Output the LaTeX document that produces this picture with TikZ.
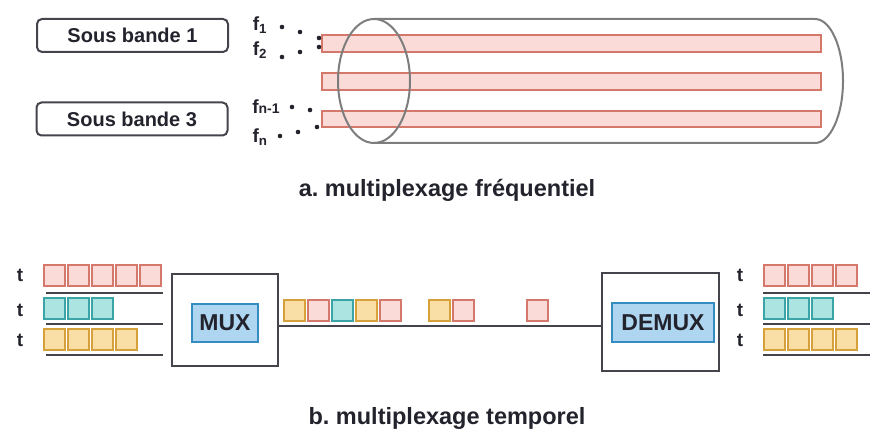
\documentclass[tikz,border=0pt]{standalone}
\usepackage{fontspec}
\setmainfont{Liberation Sans}
\usetikzlibrary{positioning}
\definecolor{bandfill}{RGB}{250,219,216}
\definecolor{banddraw}{RGB}{212,120,108}
\definecolor{cyanfill}{RGB}{172,228,226}
\definecolor{cyandraw}{RGB}{58,164,166}
\definecolor{yelfill}{RGB}{249,222,165}
\definecolor{yeldraw}{RGB}{214,160,58}
\definecolor{muxfill}{RGB}{174,214,241}
\definecolor{muxdraw}{RGB}{52,140,192}
\definecolor{tube}{RGB}{125,125,125}
\definecolor{ink}{RGB}{35,35,45}

\tikzset{
  sousbande/.style={draw=ink!85, line width=2pt, rounded corners=5pt,
    minimum width=191pt, minimum height=33pt, text=ink,
    font=\fontsize{20}{20}\selectfont\bfseries},
  band/.style={draw=banddraw, fill=bandfill, line width=1.8pt},
  redsq/.style={draw=banddraw, fill=bandfill, line width=2pt},
  cyansq/.style={draw=cyandraw, fill=cyanfill, line width=2pt},
  yelsq/.style={draw=yeldraw, fill=yelfill, line width=2pt},
  outerbox/.style={draw=ink!85, line width=2.2pt},
  muxbox/.style={draw=muxdraw, fill=muxfill, line width=1.8pt, text=ink,
    font=\fontsize{23}{23}\selectfont\bfseries},
  lbl/.style={text=ink, font=\fontsize{19}{19}\selectfont\bfseries},
  caption/.style={text=ink, font=\fontsize{23.5}{23.5}\selectfont\bfseries},
  rail/.style={draw=ink!85, line width=2pt},
}
\newcommand{\slot}[3]{\draw[#1] (#2+1,#3+1) rectangle ++(21,21);}
\frenchspacing

\begin{document}
\begin{tikzpicture}[x=1pt, y=-1pt]
  \useasboundingbox (0,0) rectangle (870,430);

  % a. multiplexage frequentiel
  \node[sousbande] (sb1) at (132.5,35.5) {Sous bande 1};
  \node[sousbande] (sb3) at (132,119) {Sous bande 3};

  \draw[band] (322,35) rectangle (821,52);
  \draw[band] (322,73) rectangle (821,90);
  \draw[band] (322,111) rectangle (821,127);

  \draw[tube, line width=2pt] (374,19) -- (815,19)
    arc[start angle=-90, end angle=90, x radius=28, y radius=62] -- (374,143);
  \draw[tube, line width=2pt] (374,81) ellipse[x radius=36, y radius=62];

  \node[lbl] (f1) at (260,25) {f\textsubscript{1}};
  \node[lbl] (f2) at (260,50) {f\textsubscript{2}};
  \node[lbl] (fn1) at (266,107) {f{\fontsize{14}{14}\selectfont n-1}};
  \node[lbl] (fn) at (260,137) {f\textsubscript{n}};

  \foreach \p in {(282,27),(300,32),(319,38),(319,47),(300,52),(282,57),
                  (292,107),(310,110),(317,127),(298,132),(280,136)}
    \fill[ink] \p circle[radius=2.3];

  \node[caption] (capA) at (447,190) {a. multiplexage fréquentiel};

  % b. multiplexage temporel
  \node[outerbox, minimum width=106pt, minimum height=92pt] (mux) at (225,320) {};
  \node[muxbox, minimum width=66pt, minimum height=38pt] (muxin) at (225,323) {MUX};
  \node[outerbox, minimum width=117pt, minimum height=98pt] (demux) at (660.5,322) {};
  \node[muxbox, minimum width=102pt, minimum height=39pt] (demuxin) at (663,322.5) {DEMUX};

  \coordinate (lvl) at (0,326);
  \draw[rail] (mux.east |- lvl) -- (demux.west |- lvl);

  \foreach \y in {275,310,340} {
    \node[lbl] at (20,\y) {t};
    \node[lbl] at (740,\y) {t};
  }

  % entrees
  \foreach \i in {0,...,4} \slot{redsq}{43+24*\i}{264}
  \foreach \i in {0,...,2} \slot{cyansq}{43+24*\i}{297}
  \foreach \i in {0,...,3} \slot{yelsq}{43+24*\i}{328}
  \foreach \y in {293,324,355} \draw[rail] (46,\y) -- (163,\y);

  % trame
  \slot{yelsq}{283}{299}
  \slot{redsq}{307}{299}
  \slot{cyansq}{331}{299}
  \slot{yelsq}{355}{299}
  \slot{redsq}{379}{299}
  \slot{yelsq}{428}{299}
  \slot{redsq}{452}{299}
  \slot{redsq}{526}{299}

  % sorties
  \foreach \i in {0,...,3} \slot{redsq}{763+24*\i}{264}
  \foreach \i in {0,...,2} \slot{cyansq}{763+24*\i}{297}
  \foreach \i in {0,...,3} \slot{yelsq}{763+24*\i}{328}
  \foreach \y in {293,324,355} \draw[rail] (763,\y) -- (870,\y);

  \node[caption] (capB) at (447,418) {b. multiplexage temporel};
\end{tikzpicture}
\end{document}
